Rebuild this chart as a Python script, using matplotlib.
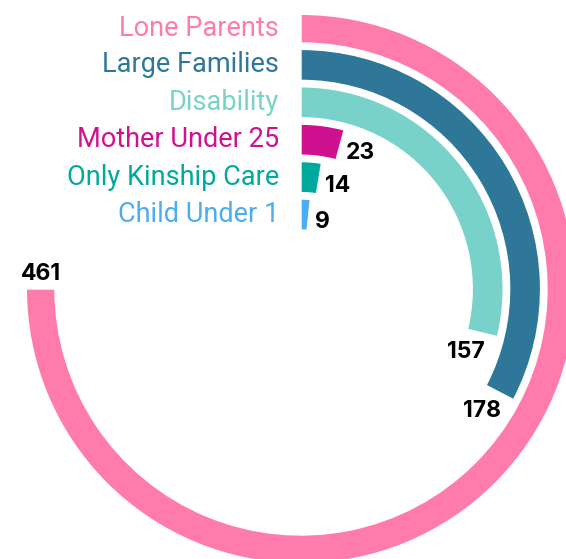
import numpy as np
import matplotlib.pyplot as plt

# counts per household type
categories = ['Lone Parents', 'Large Families', 'Disability',
              'Mother Under 25', 'Only Kinship Care', 'Child Under 1']
values = [461, 178, 157, 23, 14, 9]
colors = ['#FF7BAC', '#2E7799', '#79D2C9', '#D0118F', '#00A99D', '#4AADF2']

scale_max = 409          # value that fills the 270 degree sweep
sweep = np.deg2rad(270)

W, H, DPI = 566, 559, 100
cx, cy = 301, 289        # centre of the rings in pixels (from top-left)
R = 274                  # outer radius in pixels

fig = plt.figure(figsize=(W / DPI, H / DPI), dpi=DPI)
ax = fig.add_axes([(cx - R) / W, (H - cy - R) / H, 2 * R / W, 2 * R / H],
                  projection='polar')
ax.set_theta_zero_location('N')
ax.set_theta_direction(-1)
ax.set_ylim(0, R)
ax.axis('off')

track = 37.4
bar_w = 31
base = 59

plt.rcParams['font.family'] = ['Roboto', 'DejaVu Sans']

n = len(categories)
for i, (cat, v, c) in enumerate(zip(categories, values, colors)):
    r0 = base + track * (n - 1 - i)
    theta = min(v / scale_max, 1.0) * sweep
    ax.bar(theta / 2, bar_w, width=theta, bottom=r0, color=c,
           edgecolor='white', linewidth=1.0, align='center')
    rm = r0 + bar_w / 2
    if i == 0:
        rm = (r0 + R) / 2

    # category name to the left of the start line
    ax.annotate(cat, xy=(0, rm), xytext=(-22, 0), textcoords='offset pixels',
                ha='right', va='center', fontsize=19.5, color=c)

    # value label just past the end of the arc
    deg = np.rad2deg(theta)
    tx, ty = np.cos(theta), -np.sin(theta)   # tangent direction (screen, y up)
    off = (tx * 7, ty * 7)
    if deg < 60:
        ha, va = 'left', 'center_baseline'
        off = (off[0] - 1, off[1] - 4)
    elif deg < 200:
        ha, va = 'right', 'top'
        off = (off[0] + 4, off[1] - 1)
    else:
        ha, va = 'center', 'bottom'
        off = (off[0], off[1] - 3)
    ax.annotate(str(v), xy=(theta, rm), xytext=off, textcoords='offset pixels',
                ha=ha, va=va, fontsize=16.5, fontweight='bold', color='black',
                family=['Inter', 'DejaVu Sans'])

fig.savefig('out.png', dpi=DPI)
